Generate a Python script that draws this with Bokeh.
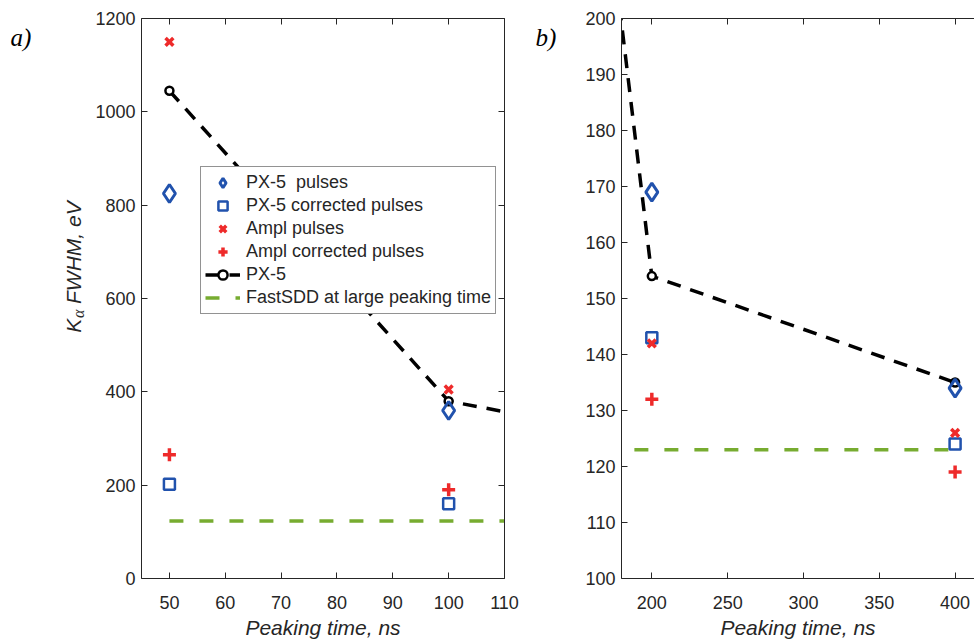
import math
from bokeh.plotting import figure
from bokeh.models import (LinearAxis, FixedTicker, Legend, LegendItem, Range1d)
from bokeh.core.properties import value
from bokeh.layouts import row
from bokeh.embed import file_html
from bokeh.resources import INLINE

# ---------------- data ----------------
peaking_time = [50, 100, 200, 400]
px5_pulses = [825, 360, 169, 134]
px5_corrected = [202, 160, 143, 124]
ampl_pulses = [1150, 405, 142, 126]
ampl_corrected = [265, 190, 132, 119]
px5_line = [1045, 380, 154, 135]
fastsdd_x = [50, 400]
fastsdd_y = [123, 123]

xticks_a = [50, 60, 70, 80, 90, 100, 110]
yticks_a = [0, 200, 400, 600, 800, 1000, 1200]
xticks_b = [200, 250, 300, 350, 400]
yticks_b = [100, 110, 120, 130, 140, 150, 160, 170, 180, 190, 200]

BLUE = "#2152ad"
RED = "#ee2a2a"
GREEN = "#77ac30"
AX = "#262626"
FONT = "Liberation Sans"
SERIF = "Liberation Serif"
H = 641
TOP, BOTTOM = 18, 60


def style_axis(ax, ticks, labels=True):
    ax.ticker = FixedTicker(ticks=ticks)
    ax.major_tick_in = 6
    ax.major_tick_out = 0
    ax.minor_tick_line_color = None
    ax.axis_line_color = AX
    ax.major_tick_line_color = AX
    ax.major_label_text_font = FONT
    ax.major_label_text_color = AX
    if labels:
        ax.major_label_text_font_size = "18px"
    else:
        ax.major_label_text_font_size = "0px"
        ax.major_label_standoff = 0


def make_panel(width, xr, yr, xt, yt, mbl, mbr, right_axis):
    p = figure(width=width, height=H, x_range=Range1d(*xr), y_range=Range1d(*yr),
               output_backend="svg", toolbar_location=None, title=None,
               min_border_left=mbl, min_border_right=mbr,
               min_border_top=TOP, min_border_bottom=BOTTOM)
    p.outline_line_color = None
    p.grid.visible = False
    p.background_fill_color = "white"
    style_axis(p.xaxis[0], xt)
    style_axis(p.yaxis[0], yt)
    p.xaxis[0].major_label_standoff = 17
    p.yaxis[0].major_label_standoff = 6
    p.xaxis[0].axis_label = "Peaking time, ns"
    p.xaxis[0].axis_label_text_font = FONT
    p.xaxis[0].axis_label_text_font_style = "italic"
    p.xaxis[0].axis_label_text_font_size = "21px"
    p.xaxis[0].axis_label_text_color = AX
    p.xaxis[0].axis_label_standoff = 4
    top = LinearAxis()
    style_axis(top, xt, labels=False)
    p.add_layout(top, "above")
    if right_axis:
        r = LinearAxis()
        style_axis(r, yt, labels=False)
        p.add_layout(r, "right")

    rs = {}
    rs["line"] = p.line(peaking_time, px5_line, line_color="black", line_width=3.5,
                        line_dash="14 10")
    rs["circ"] = p.scatter(peaking_time, px5_line, marker="circle", size=8,
                           line_color="black", line_width=2.5, fill_color="white")
    rs["green"] = p.line(fastsdd_x, fastsdd_y, line_color=GREEN, line_width=3.5,
                         line_dash="14 16")
    rs["diam"] = p.scatter(peaking_time, px5_pulses, marker="diamond",
                           size=18, line_color=BLUE, line_width=3, fill_color=None)
    rs["sq"] = p.scatter(peaking_time, px5_corrected, marker="square", size=11,
                         line_color=BLUE, line_width=2.5, fill_color=None)
    rs["x"] = p.scatter(peaking_time, ampl_pulses, marker="x", size=11,
                        line_color=RED, line_width=3.5)
    rs["plus"] = p.scatter(peaking_time, ampl_corrected, marker="cross", size=13,
                           line_color=RED, line_width=3.5)
    return p, rs


def text_strip(x0, x1):
    """A blank strip with the same frame as the panels; data space = page pixels."""
    f = figure(width=x1 - x0, height=H, x_range=Range1d(x0, x1),
               y_range=Range1d(H - BOTTOM, TOP), title=None,
               output_backend="svg", toolbar_location=None,
               x_axis_type=None, y_axis_type=None,
               min_border_left=0, min_border_right=0,
               min_border_top=TOP, min_border_bottom=BOTTOM)
    f.outline_line_color = None
    f.grid.visible = False
    return f


# left strip: panel tag a) and y-axis label with subscript alpha
fl = text_strip(0, 90)
fl.text(x=[10], y=[37], text=["a)"], text_font=value(SERIF), text_font_style="italic",
        text_font_size="25px", text_color="black", text_baseline="alphabetic")
ylab = dict(angle=math.pi / 2, text_color=AX, text_font_style="italic",
            text_align="left", text_baseline="alphabetic")
fl.text(x=[73], y=[334], text=["K"], text_font=value(FONT), text_font_size="21px", **ylab)
fl.text(x=[78], y=[319], text=["α"], text_font=value(SERIF), text_font_size="16px", **ylab)
fl.text(x=[73], y=[305], text=["FWHM, eV"], text_font=value(FONT),
        text_font_size="21px", **ylab)

pa, ra = make_panel(440, (45, 110), (0, 1200), xticks_a, yticks_a, 51, 26, True)

# middle strip: panel tag b)
fm = text_strip(530, 570)
fm.text(x=[535], y=[37], text=["b)"], text_font=value(SERIF), text_font_style="italic",
        text_font_size="25px", text_color="black", text_baseline="alphabetic")

pb, rb = make_panel(404, (180, 412.8), (100, 200), xticks_b, yticks_b, 51, 0, False)

legend = Legend(items=[
    LegendItem(label="PX-5  pulses", renderers=[ra["diam"]]),
    LegendItem(label="PX-5 corrected pulses", renderers=[ra["sq"]]),
    LegendItem(label="Ampl pulses", renderers=[ra["x"]]),
    LegendItem(label="Ampl corrected pulses", renderers=[ra["plus"]]),
    LegendItem(label="PX-5", renderers=[ra["line"], ra["circ"]]),
    LegendItem(label="FastSDD at large peaking time", renderers=[ra["green"]]),
], location=(59, 264))
legend.border_line_color = AX
legend.border_line_width = 1
legend.background_fill_color = "white"
legend.background_fill_alpha = 1
legend.label_text_font = FONT
legend.label_text_font_size = "18px"
legend.label_text_color = AX
legend.label_height = 23
legend.glyph_height = 23
legend.glyph_width = 35
legend.label_standoff = 6
legend.spacing = 0
legend.padding = 4
legend.margin = 0
pa.add_layout(legend, "center")

layout = row(fl, pa, fm, pb)
open("out.html", "w").write(file_html(layout, INLINE))
